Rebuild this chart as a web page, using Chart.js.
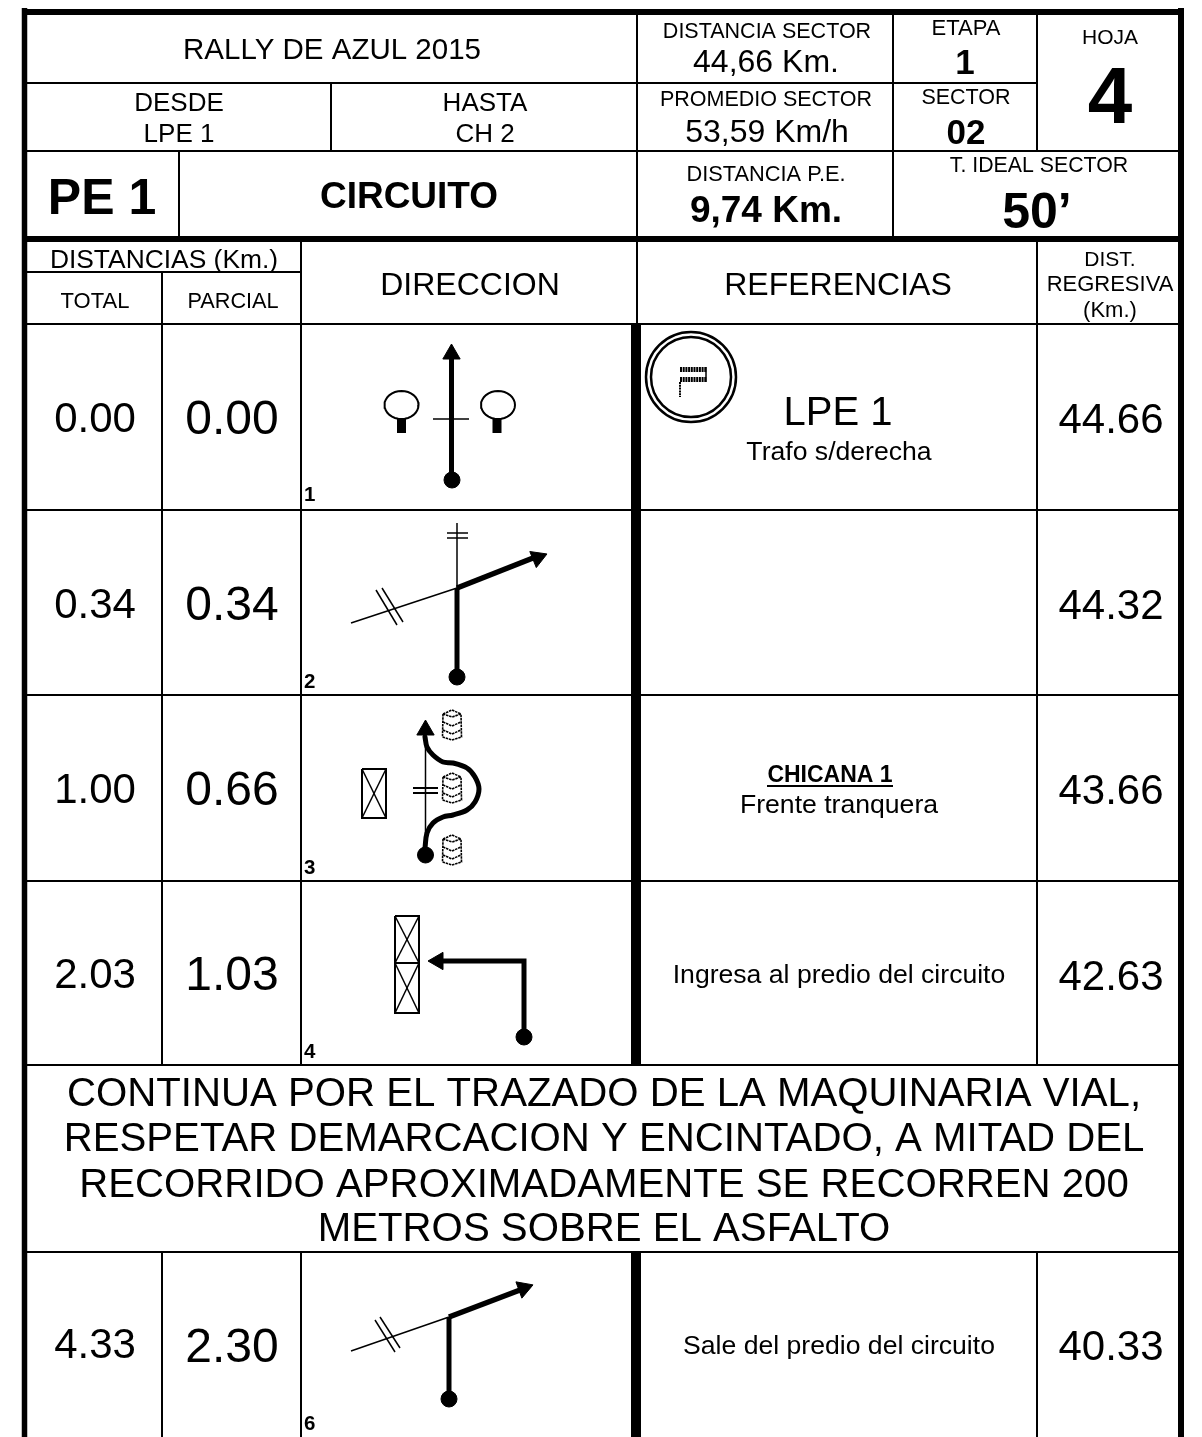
<!DOCTYPE html>
<html>
<head>
<meta charset="utf-8">
<title>Rally de Azul 2015</title>
<script src="https://cdn.jsdelivr.net/npm/chart.js@4"></script>
<style>
  html, body { margin: 0; padding: 0; background: #fff; overflow: hidden; }
  canvas { display: block; }
</style>
</head>
<body>
<canvas id="hoja" width="1202" height="1437"></canvas>
<script>
// datos de la hoja de ruta
const casilleros = ["1", "2", "3", "4", "6"];
const totales = ["0.00", "0.34", "1.00", "2.03", "4.33"];
const parciales = ["0.00", "0.34", "0.66", "1.03", "2.30"];
const regresivas = ["44.66", "44.32", "43.66", "42.63", "40.33"];
const referencias = ["Trafo s/derecha", "", "Frente tranquera", "Ingresa al predio del circuito", "Sale del predio del circuito"];
const aviso = [
  "CONTINUA POR EL TRAZADO DE LA MAQUINARIA VIAL,",
  "RESPETAR DEMARCACION Y ENCINTADO, A MITAD DEL",
  "RECORRIDO APROXIMADAMENTE SE RECORREN 200",
  "METROS SOBRE EL ASFALTO"
];

// posiciones de cada fila (en unidades de la escala)
const baseTotal = [432, 618, 803, 988, 1358];
const baseParcial = [434, 620, 805, 990, 1362];
const baseRegresiva = [433, 619, 804, 990, 1360];
const baseNumero = [501, 688, 874, 1058, 1430];
const baseReferencia = [460, 0, 813, 983, 1354];
const baseAviso = [1106, 1151, 1197, 1241];

// textos fijos: texto, x, base, tamaño, negrita
const textos = [
  ["RALLY DE AZUL 2015", 332, 59, 29.5, false],
  ["DESDE", 179, 111, 26, false],
  ["LPE 1", 179, 142, 26, false],
  ["HASTA", 485, 111, 26, false],
  ["CH 2", 485, 142, 26, false],
  ["PE 1", 102, 214, 50, true],
  ["CIRCUITO", 409, 208, 37, true],
  ["DISTANCIA SECTOR", 767, 38, 21.5, false],
  ["44,66 Km.", 766, 72, 32, false],
  ["ETAPA", 966, 35, 22, false],
  ["1", 965, 74, 35, true],
  ["HOJA", 1110, 44, 21, false],
  ["4", 1110, 123, 80, true],
  ["PROMEDIO SECTOR", 766, 106, 21.5, false],
  ["53,59 Km/h", 767, 142, 32, false],
  ["SECTOR", 966, 104, 21.5, false],
  ["02", 966, 144, 35, true],
  ["DISTANCIA P.E.", 766, 181, 21.8, false],
  ["9,74 Km.", 766, 222, 37, true],
  ["T. IDEAL SECTOR", 1039, 172, 21.3, false],
  ["50’", 1037, 228, 50, true],
  ["DISTANCIAS (Km.)", 164, 268, 26.4, false],
  ["TOTAL", 95, 308, 22, false],
  ["PARCIAL", 233, 308, 21.7, false],
  ["DIRECCION", 470, 295, 32, false],
  ["REFERENCIAS", 838, 295, 32, false],
  ["DIST.", 1110, 266, 21, false],
  ["REGRESIVA", 1110, 291, 22, false],
  ["(Km.)", 1110, 317, 22, false],
  ["LPE 1", 838, 425, 40, false],
  ["CHICANA 1", 830, 782, 23, true]
];

// grilla: ancho, x1, y1, x2, y2
const grilla = [
  [5.5, 24.5, 8, 24.5, 1437], [6, 1181, 8, 1181, 1437], [6, 22, 12, 1184, 12],
  [2, 24, 83, 893, 83], [2, 893, 83, 1037, 83], [2, 24, 151, 1180, 151],
  [6, 24, 239, 1180, 239], [2, 24, 272, 301, 272], [2, 24, 324, 1180, 324],
  [2, 331, 83, 331, 151], [2, 179, 151, 179, 239], [2, 637, 12, 637, 324],
  [2, 893, 12, 893, 239], [2, 1037, 12, 1037, 151], [2, 1037, 239, 1037, 1065],
  [2, 162, 272, 162, 1065], [2, 301, 239, 301, 1065],
  [2, 24, 510, 1180, 510], [2, 24, 695, 1180, 695], [2, 24, 881, 1180, 881], [2, 24, 1065, 1180, 1065],
  [2, 24, 1252, 1180, 1252], [2, 162, 1252, 162, 1437], [2, 301, 1252, 301, 1437], [2, 1037, 1252, 1037, 1437],
  [10, 636, 324, 636, 1065], [10, 636, 1252, 636, 1437]
];

// dibujos del casillero: ancho, puntos
const trazos = [
  // 1
  [5, [451.5, 478, 451.5, 355]], [1.5, [433, 419, 469, 419]], [9, [401.5, 419, 401.5, 433]], [9, [497, 419, 497, 433]],
  // 2
  [5, [457, 677, 457, 588]], [5.5, [457, 588, 533, 558]], [1.5, [457, 588, 457, 523]],
  [1.5, [447, 533, 468, 533]], [1.5, [447, 538, 468, 538]], [1.5, [351, 623, 457, 588]],
  [1.5, [376, 590, 397, 625]], [1.5, [382, 588, 403, 622]],
  // 3
  [1.5, [425.5, 848, 425.5, 735]], [2, [413, 788, 438, 788]], [2, [413, 793, 438, 793]],
  [2, [362, 769, 386, 769, 386, 818, 362, 818, 362, 769]], [1.5, [362, 769, 386, 818]], [1.5, [386, 769, 362, 818]],
  // 4
  [5, [524, 1037, 524, 961, 440, 961]],
  [2, [395, 916, 419, 916, 419, 1013, 395, 1013, 395, 916]], [2, [395, 963, 419, 963]],
  [1.5, [395, 916, 419, 963]], [1.5, [419, 916, 395, 963]], [1.5, [395, 963, 419, 1013]], [1.5, [419, 963, 395, 1013]],
  // 6
  [5, [449, 1399, 449, 1317]], [5.5, [449, 1317, 520, 1290]], [1.5, [351, 1351, 449, 1317]],
  [1.5, [375, 1320, 395, 1352]], [1.5, [380, 1317, 400, 1348]]
];
const curvaChicana = [425, 848, 427, 833, 433, 823, 443, 817, 453, 815, 467, 810, 475, 802, 479, 789, 475, 777, 467, 768, 453, 763, 443, 762, 433, 755, 427, 747, 425, 737];
const puntas = [[451.5, 354, 0], [537.7, 557.7, 68], [425.5, 730, 0], [438, 961, 270], [523.6, 1288.3, 70]];
const botones = [[452, 480], [457, 677], [425.5, 855], [524, 1037], [449, 1399]];
const lamparas = [[401.5, 405], [498, 405]];
const tambores = [[452, 725], [452, 788], [452, 850]];

function tramo(ancho, p, extra) {
  const data = [];
  for (let i = 0; i < p.length; i += 2) data.push({ x: p[i], y: p[i + 1] });
  return Object.assign({
    data, showLine: true, borderColor: "#000", borderWidth: ancho,
    pointRadius: 0, borderCapStyle: "butt", borderJoinStyle: "miter"
  }, extra || {});
}

function marcas(lista, extra) {
  return Object.assign({
    data: lista.map(p => ({ x: p[0], y: p[1] })),
    showLine: false, pointBackgroundColor: "#000", pointBorderColor: "#000"
  }, extra);
}

const datasets = [];
grilla.forEach(g => datasets.push(tramo(g[0], g.slice(1))));
trazos.forEach(t => datasets.push(tramo(t[0], t[1])));
datasets.push(tramo(5, curvaChicana, { tension: 0.35, borderCapStyle: "round" }));

// tambores de la chicana, punteados
tambores.forEach(c => {
  const dash = { borderDash: [2.5, 0.8] };
  datasets.push(tramo(1.6, [c[0] - 9, c[1] - 11, c[0] - 9.5, c[1] + 12, c[0], c[1] + 15, c[0] + 9.5, c[1] + 12, c[0] + 9, c[1] - 11], dash));
  datasets.push(tramo(1.6, [c[0] - 9, c[1] - 11, c[0], c[1] - 15, c[0] + 9, c[1] - 11, c[0], c[1] - 8, c[0] - 9, c[1] - 11], dash));
  datasets.push(tramo(1.6, [c[0] - 9, c[1] - 3, c[0], c[1] + 1, c[0] + 9, c[1] - 3], dash));
  datasets.push(tramo(1.6, [c[0] - 9, c[1] + 5, c[0], c[1] + 9, c[0] + 9, c[1] + 5], dash));
});

// bandera de largada
datasets.push(marcas([[691, 377]], { pointRadius: 45, pointBackgroundColor: "#fff", pointBorderWidth: 2.5 }));
datasets.push(marcas([[691, 377]], { pointRadius: 40, pointBackgroundColor: "#fff", pointBorderWidth: 2.5 }));
datasets.push(tramo(5, [680, 369.5, 707, 369.5], { borderDash: [2, 0.7] }));
datasets.push(tramo(5, [680, 379.5, 707, 379.5], { borderDash: [2, 0.7] }));
datasets.push(tramo(1.5, [706, 367, 706, 382]));
datasets.push(tramo(2, [680, 382, 680, 397], { borderDash: [2, 0.8] }));

// lamparas ovaladas
lamparas.forEach(l => {
  const p = [];
  for (let i = 0; i <= 32; i++) {
    const a = i / 32 * 2 * Math.PI;
    p.push(l[0] + 17 * Math.cos(a), l[1] + 14 * Math.sin(a));
  }
  datasets.push(tramo(2, p));
});
datasets.push(marcas(botones, { pointRadius: 8 }));
puntas.forEach(p => datasets.push(marcas([p], { pointStyle: "triangle", pointRadius: 10, pointRotation: p[2] })));

// textos sobre el canvas
const textosPlugin = {
  id: "textos",
  afterDatasetsDraw(chart) {
    const { ctx, scales: { x, y } } = chart;
    const poner = (txt, px, py, size, bold, align) => {
      ctx.font = `${bold ? "bold " : ""}${size}px "Liberation Sans"`;
      ctx.textAlign = align || "center";
      ctx.textBaseline = "alphabetic";
      ctx.fillStyle = "#000";
      ctx.fillText(txt, x.getPixelForValue(px), y.getPixelForValue(py));
    };
    ctx.save();
    textos.forEach(t => poner(t[0], t[1], t[2], t[3], t[4]));
    casilleros.forEach((n, i) => {
      poner(totales[i], 95, baseTotal[i], 42);
      poner(parciales[i], 232, baseParcial[i], 48);
      poner(regresivas[i], 1111, baseRegresiva[i], 42);
      poner(n, 304, baseNumero[i], 20.5, true, "left");
      if (referencias[i]) poner(referencias[i], 839, baseReferencia[i], 26.6);
    });
    aviso.forEach((linea, i) => poner(linea, 604, baseAviso[i], 40.2));
    // subrayado de CHICANA 1
    ctx.fillStyle = "#000";
    ctx.fillRect(x.getPixelForValue(767), y.getPixelForValue(785), 126, 2);
    ctx.restore();
  }
};

const fondoPlugin = {
  id: "fondo",
  beforeDraw(chart) {
    chart.ctx.fillStyle = "#fff";
    chart.ctx.fillRect(0, 0, chart.width, chart.height);
  }
};

// chart.js pinta el primer dataset arriba: se invierte para pintar en orden
new Chart(document.getElementById("hoja"), {
  type: "scatter",
  data: { datasets: datasets.reverse() },
  options: {
    responsive: false,
    animation: false,
    events: [],
    clip: false,
    layout: { padding: 0, autoPadding: false },
    plugins: { legend: { display: false }, tooltip: { enabled: false } },
    scales: {
      x: { type: "linear", min: 0, max: 1202, display: false },
      y: { type: "linear", min: 0, max: 1437, reverse: true, display: false }
    }
  },
  plugins: [fondoPlugin, textosPlugin]
});
</script>
</body>
</html>
